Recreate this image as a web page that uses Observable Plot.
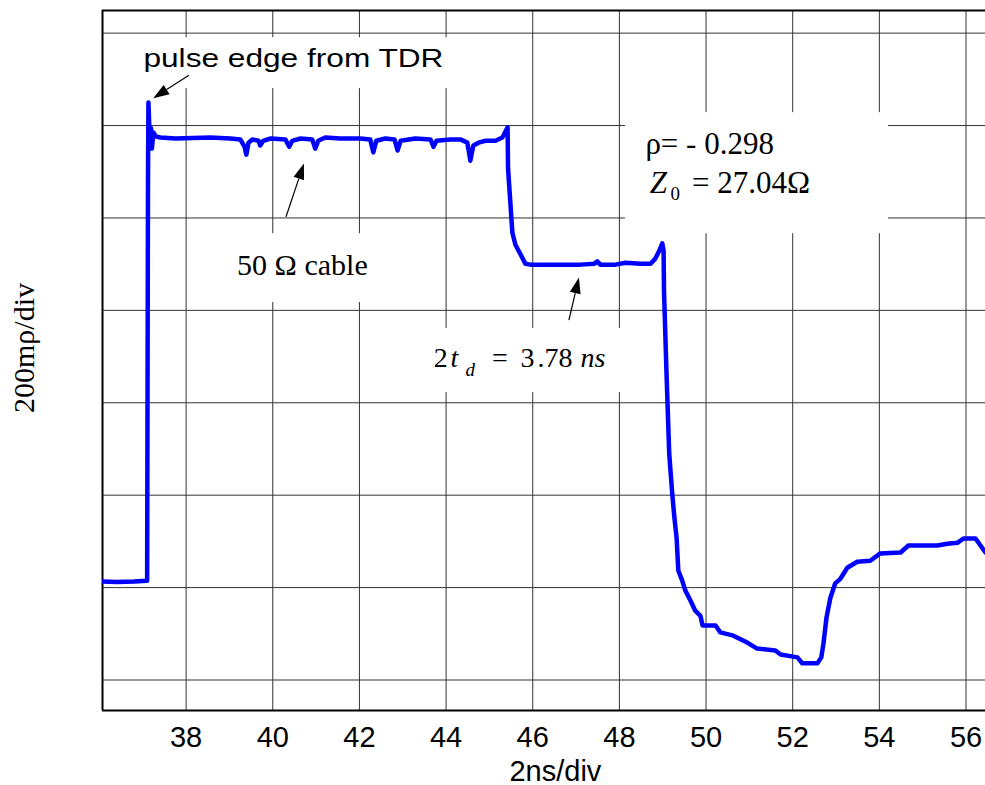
<!DOCTYPE html>
<html><head><meta charset="utf-8">
<script src="https://cdn.jsdelivr.net/npm/d3@7"></script>
<script src="https://cdn.jsdelivr.net/npm/@observablehq/plot@0.6"></script>
<style>body{margin:0;background:#fff} svg{display:block}</style>
</head><body><div id="chart"></div>
<script>
// time axis (ns) and reflection coefficient (mρ)
const timeNs = [36.07,36.4,36.8,37.08,37.10,37.12,37.13,37.165,37.19,37.21,37.245,37.31,37.41,
 37.75,38.56,39.02,39.25,39.35,39.39,39.44,39.53,39.67,39.71,39.78,39.95,40.29,40.38,40.45,40.64,
 40.91,40.98,41.05,41.21,41.56,42.02,42.25,42.32,42.39,42.60,42.81,42.88,42.95,43.29,43.64,43.71,
 43.78,44.10,44.33,44.49,44.56,44.63,44.75,44.91,45.14,45.30,45.42,45.43,45.48,45.53,45.60,45.72,
 45.83,45.95,46.64,47.10,47.42,47.49,47.56,47.91,48.14,48.48,48.72,48.83,48.92,48.99,49.02,49.03,
 49.09,49.15,49.22,49.27,49.32,49.36,49.45,49.52,49.64,49.75,49.87,49.92,50.22,50.33,50.63,50.95,
 51.18,51.60,51.72,52.11,52.22,52.57,52.66,52.71,52.78,52.87,52.98,53.10,53.26,53.49,53.79,54.02,
 54.49,54.67,55.34,55.57,55.80,55.94,56.22,56.29,56.45];
const reflMrho = [13,12,13,15,15,881,1050,957,994,950,985,976,974,
 972,974,972,970,954,937,963,970,967,957,967,972,970,954,967,972,
 970,950,967,974,972,972,970,942,967,972,970,946,967,972,970,954,
 967,970,970,963,924,957,963,967,967,974,996,907,838,768,742,721,
 701,699,699,699,701,706,699,699,703,701,701,712,729,745,729,641,
 457,290,203,151,108,37,15,-6,-28,-50,-61,-82,-82,-97,-104,-119,
 -132,-136,-145,-151,-164,-164,-151,-121,-65,-22,9,19,43,56,58,74,
 76,91,91,95,97,106,106,97,76];
const xTicks = [38,40,42,44,46,48,50,52,54,56];
const yGrid = [-200,0,200,400,600,800,1000,1200];
const xDomain = [36.07, 56.45];
const yDomain = [-266, 1249];
// annotation arrows: tail -> tip
const arrowX1 = [38.076, 40.315, 46.846];
const arrowY1 = [1108, 801, 578];
const arrowX2 = [37.252, 40.730, 47.077];
const arrowY2 = [1058, 917, 670];
// white label boxes (x1, x2, y1, y2)
const boxX1 = [36.60, 48.14, 38.33, 42.95];
const boxX2 = [44.33, 54.21, 42.83, 48.49];
const boxY1 = [1080, 766, 617, 422];
const boxY2 = [1190, 1028, 766, 561];

const serif = "Liberation Serif, Times New Roman, serif";
const sans = "Liberation Sans, Arial, sans-serif";

function arrowMark(index, scales) {
  const g = d3.create("svg:g");
  for (let i = 0; i < arrowX1.length; i++) {
    const x1 = scales.x(arrowX1[i]), y1 = scales.y(arrowY1[i]);
    const x2 = scales.x(arrowX2[i]), y2 = scales.y(arrowY2[i]);
    const a = Math.atan2(y2 - y1, x2 - x1);
    const L = 16, W = 5.5;
    const bx = x2 - L * Math.cos(a), by = y2 - L * Math.sin(a);
    g.append("line").attr("x1", x1).attr("y1", y1).attr("x2", bx).attr("y2", by)
      .attr("stroke", "black").attr("stroke-width", 1.2);
    const px = -Math.sin(a), py = Math.cos(a);
    g.append("path").attr("d",
      `M${x2},${y2}L${bx + W * px},${by + W * py}L${bx - W * px},${by - W * py}Z`)
      .attr("fill", "black");
  }
  return g.node();
}

const chart = Plot.plot({
  width: 985, height: 785,
  marginLeft: 102, marginRight: 0, marginTop: 10, marginBottom: 75,
  style: {fontFamily: sans, fontSize: "29px", background: "white", color: "black"},
  x: {domain: xDomain, axis: null},
  y: {domain: yDomain, axis: null},
  marks: [
    Plot.gridX(xTicks, {stroke: "#333", strokeOpacity: 1, strokeWidth: 1}),
    Plot.gridY(yGrid, {stroke: "#333", strokeOpacity: 1, strokeWidth: 1}),
    Plot.rect(boxX1, {x1: boxX1, x2: boxX2, y1: boxY1, y2: boxY2, fill: "white"}),
    Plot.ruleX([xDomain[0]], {stroke: "black", strokeWidth: 2}),
    Plot.ruleY(yDomain, {stroke: "black", strokeWidth: 2}),
    Plot.axisX(xTicks, {tickSize: 0, tickPadding: 16, label: null, fontSize: 29, fontFamily: sans}),
    Plot.line(timeNs, {x: timeNs, y: reflMrho, stroke: "#0000ff", strokeWidth: 4.5,
      strokeLinejoin: "round", strokeLinecap: "round", clip: true}),
    arrowMark,
    Plot.text(["pulse edge from TDR"], {x: 37.015, y: 1126, text: d => d, textAnchor: "start",
      lineAnchor: "bottom", fontFamily: sans, fontSize: 26}),
    Plot.text(["ρ= - 0.298"], {x: 48.60, y: 939, text: d => d, textAnchor: "start",
      lineAnchor: "bottom", fontFamily: serif, fontSize: 31}),
    Plot.text(["Z"], {x: 48.70, y: 853, text: d => d, textAnchor: "start",
      lineAnchor: "bottom", fontFamily: serif, fontSize: 31, fontStyle: "italic"}),
    Plot.text(["0"], {x: 49.177, y: 838, text: d => d, textAnchor: "start",
      lineAnchor: "bottom", fontFamily: serif, fontSize: 19}),
    Plot.text(["= 27.04Ω"], {x: 49.678, y: 853, text: d => d, textAnchor: "start",
      lineAnchor: "bottom", fontFamily: serif, fontSize: 31}),
    Plot.text(["50 Ω cable"], {x: 39.177, y: 677, text: d => d, textAnchor: "start",
      lineAnchor: "bottom", fontFamily: serif, fontSize: 30}),
    Plot.text(["2"], {x: 43.714, y: 477, text: d => d, textAnchor: "start",
      lineAnchor: "bottom", fontFamily: serif, fontSize: 28}),
    Plot.text(["t"], {x: 44.10, y: 477, text: d => d, textAnchor: "start",
      lineAnchor: "bottom", fontFamily: serif, fontSize: 28, fontStyle: "italic"}),
    Plot.text(["d"], {x: 44.446, y: 459, text: d => d, textAnchor: "start",
      lineAnchor: "bottom", fontFamily: serif, fontSize: 19, fontStyle: "italic"}),
    Plot.text(["="], {x: 45.062, y: 477, text: d => d, textAnchor: "start",
      lineAnchor: "bottom", fontFamily: serif, fontSize: 28}),
    Plot.text(["3"], {x: 45.715, y: 477, text: d => d, textAnchor: "start",
      lineAnchor: "bottom", fontFamily: serif, fontSize: 28}),
    Plot.text([".78"], {x: 46.108, y: 477, text: d => d, textAnchor: "start",
      lineAnchor: "bottom", fontFamily: serif, fontSize: 28}),
    Plot.text(["ns"], {x: 47.10, y: 477, text: d => d, textAnchor: "start",
      lineAnchor: "bottom", fontFamily: serif, fontSize: 28, fontStyle: "italic"}),
    Plot.text(["2ns/div"], {x: 46.523, frameAnchor: "bottom", dy: 70, text: d => d,
      textAnchor: "middle", lineAnchor: "bottom", fontFamily: sans, fontSize: 29}),
    Plot.text(["200mρ/div"], {frameAnchor: "left", rotate: -90, dx: -69, dy: -12.5, text: d => d,
      textAnchor: "middle", lineAnchor: "bottom", fontFamily: serif, fontSize: 30})
  ]
});

d3.select(chart).selectAll("text")
  .filter(function () { return this.textContent === "pulse edge from TDR"; })
  .attr("textLength", 300).attr("lengthAdjust", "spacingAndGlyphs");

document.getElementById("chart").appendChild(chart);
</script>
</body></html>
